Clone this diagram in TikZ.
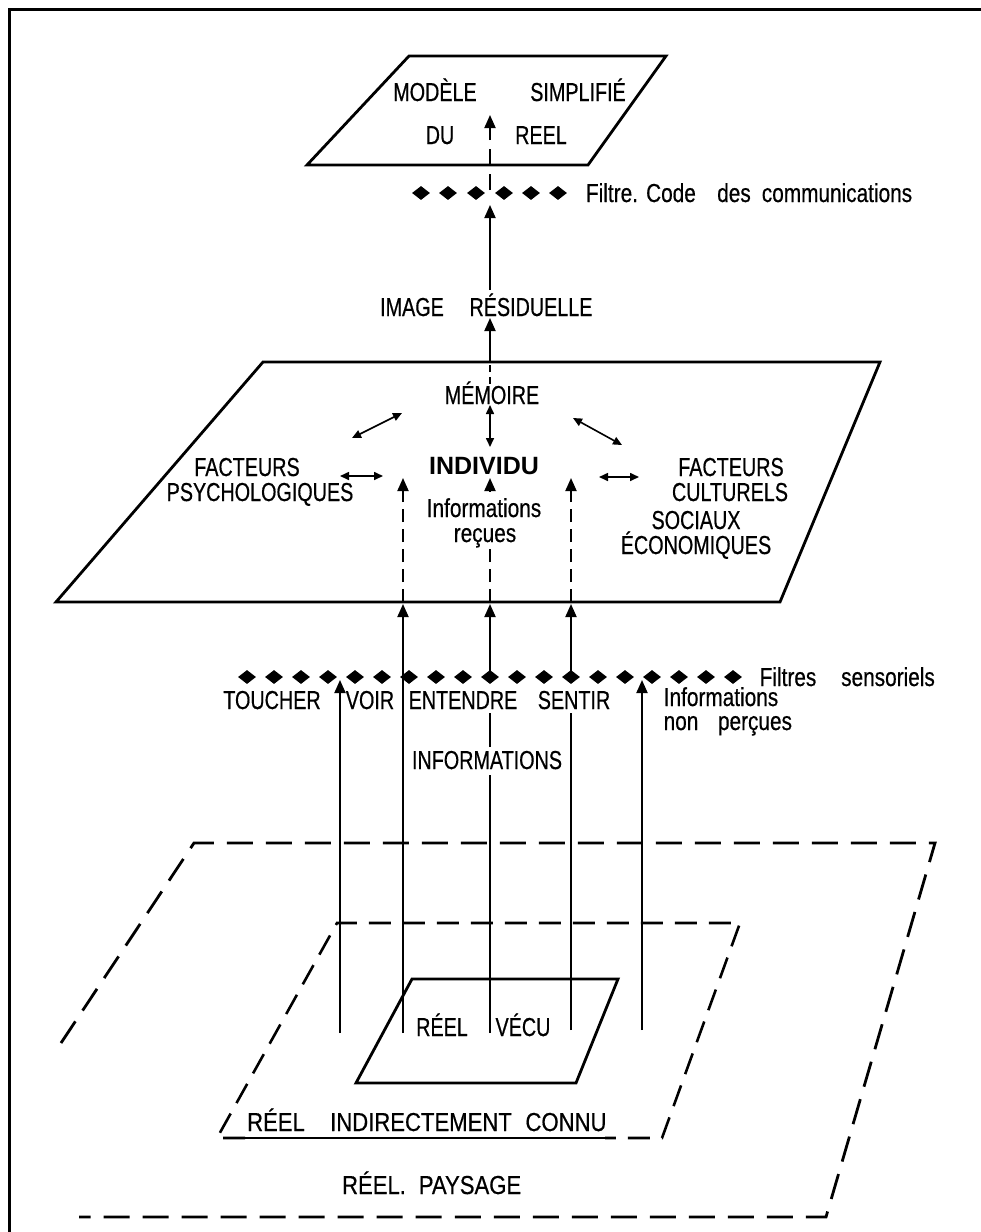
\documentclass[tikz,border=0pt]{standalone}
\usepackage{fontspec}
\setmainfont{Liberation Sans}
\newfontfamily\upf{Liberation Sans}[FakeStretch=0.76, FakeBold=0.5]
\newfontfamily\widef{Liberation Sans}[FakeStretch=0.85, FakeBold=0.5]
\newfontfamily\lowf{Liberation Sans}[FakeStretch=0.8, FakeBold=0.5]
\usetikzlibrary{arrows.meta,shapes.geometric}
\tikzset{
 lbl/.style={anchor=base, inner sep=0pt, font=\fontsize{26}{28}\upf},
 widelbl/.style={anchor=base, inner sep=0pt, font=\fontsize{26}{28}\widef},
 lowlbl/.style={anchor=base, inner sep=0pt, font=\fontsize{26}{28}\lowf},
 boldlbl/.style={anchor=base, inner sep=0pt, font=\fontsize{25}{28}\bfseries},
 plane/.style={line width=2.8pt, line join=miter},
 dplane/.style={line width=2.8pt, dash pattern=on 26pt off 13pt},
 vline/.style={line width=1.9pt},
 up/.style={line width=1.9pt, -{Triangle[length=13pt,width=11pt]}},
 dup/.style={up, dash pattern=on 13pt off 7pt},
 dbl/.style={line width=1.6pt, {Triangle[length=9pt,width=8pt]}-{Triangle[length=9pt,width=8pt]}},
 dia/.style={diamond, fill=black, inner sep=0pt, minimum width=18pt, minimum height=14pt},
}
\begin{document}
\begin{tikzpicture}[x=1pt,y=-1pt]
\useasboundingbox (0,0) rectangle (981,1232);
% frame
\draw[line width=3pt] (9,1232) -- (9,9) -- (981,9);

% ---- top plane
\draw[plane] (409,56) -- (666,56) -- (588,165) -- (307,165) -- cycle;
\node[lbl] (modele) at (435,101) {MODÈLE};
\node[lbl] (simpl) at (578,101) {SIMPLIFIÉ};
\node[lbl] (du) at (440,144) {DU};
\node[lbl] (reel) at (541,144) {REEL};

% ---- code filter
\foreach \x [count=\i] in {421,448,476,504,531,558} \node[dia] (ta\i) at (\x,193) {};
\node[lowlbl] (fc1) at (612,202) {Filtre.};
\node[lowlbl] (fc2) at (671,202) {Code};
\node[lowlbl] (fc3) at (734,202) {des};
\node[lowlbl] (fc4) at (837,202) {communications};

\node[lbl] (img1) at (412,316) {IMAGE};
\node[lbl] (img2) at (531,316) {RÉSIDUELLE};

\coordinate (tA) at (490,115);
\coordinate (tB) at (490,190);
\coordinate (f1) at (490,205);
\coordinate (irTop) at (490,290);
\coordinate (irBot) at (490,318);
\coordinate (pTop) at (490,362);
\coordinate (memTop) at (490,384);
\draw[up, dash pattern=on 16pt off 9pt] (tB) -- (tA);
\draw[up] (irTop) -- (f1);
\draw[up] (pTop) -- (irBot);
\draw[line width=1.3pt, dash pattern=on 7pt off 5pt] (memTop) -- (pTop);

% ---- middle plane
\draw[plane] (263,362) -- (880,362) -- (780,602) -- (56,602) -- cycle;
\node[lbl] (mem) at (492,404) {MÉMOIRE};
\node[boldlbl] (ind) at (484,474) {INDIVIDU};
\node[lbl] (fl1) at (247,476) {FACTEURS};
\node[lbl] (fl2) at (260,501) {PSYCHOLOGIQUES};
\node[lowlbl] (ir1) at (484,517) {Informations};
\node[lowlbl] (ir2) at (485,542) {reçues};
\node[lbl] (fr1) at (731,476) {FACTEURS};
\node[lbl] (fr2) at (730,501) {CULTURELS};
\node[lbl] (fr3) at (696,529) {SOCIAUX};
\node[lbl] (fr4) at (696,554) {ÉCONOMIQUES};

\coordinate (m1) at (490,405); \coordinate (m2) at (490,447);
\coordinate (l1) at (352,438); \coordinate (l2) at (402,413);
\coordinate (r1) at (573,418); \coordinate (r2) at (622,445);
\coordinate (h1) at (340,476); \coordinate (h2) at (383,476);
\coordinate (k1) at (599,477); \coordinate (k2) at (639,477);
\draw[dbl] (m1) -- (m2);
\draw[dbl] (l1) -- (l2);
\draw[dbl] (r1) -- (r2);
\draw[dbl] (h1) -- (h2);
\draw[dbl] (k1) -- (k2);

\coordinate (pa) at (403,602); \coordinate (pa2) at (403,478);
\coordinate (pc) at (571,602); \coordinate (pc2) at (571,478);
\coordinate (pb) at (490,602); \coordinate (pb1) at (490,549);
\coordinate (pb2) at (490,491); \coordinate (pb3) at (490,478);
\draw[dup] (pa) -- (pa2);
\draw[dup] (pc) -- (pc2);
\draw[vline, dash pattern=on 13pt off 7pt] (pb) -- (pb1);
\draw[up] (pb2) -- (pb3);

% ---- sensory filters
\foreach \i in {0,...,18} \node[dia] (sb\i) at ({247+27*\i},677) {};
\node[lowlbl] (fs1) at (788,686) {Filtres};
\node[lowlbl] (fs2) at (888,686) {sensoriels};
\node[lbl] (tou) at (272,709) {TOUCHER};
\node[lbl] (voi) at (370,709) {VOIR};
\node[lbl] (ent) at (463,709) {ENTENDRE};
\node[lbl] (sen) at (574,709) {SENTIR};
\node[lowlbl] (inp1) at (721,706) {Informations};
\node[lowlbl] (inp2) at (681,730) {non};
\node[lowlbl] (inp3) at (755,730) {perçues};
\node[lbl] (info) at (487,769) {INFORMATIONS};

% vertical lines from the real
\coordinate (a1) at (340,1033); \coordinate (a1t) at (340,680);
\coordinate (a2) at (403,1033); \coordinate (a2t) at (403,604);
\coordinate (a3) at (490,1033); \coordinate (a3a) at (490,775);
\coordinate (a3b) at (490,747); \coordinate (a3c) at (490,713);
\coordinate (a3t) at (490,604);
\coordinate (a4) at (571,1030); \coordinate (a4a) at (571,713);
\coordinate (a4t) at (571,604);
\coordinate (a5) at (642,1030); \coordinate (a5t) at (642,680);
\draw[up] (a1) -- (a1t);
\draw[up] (a2) -- (a2t);
\draw[vline] (a3) -- (a3a);
\draw[vline] (a3b) -- (a3c);
\draw[up] (sb9.center) -- (a3t);
\draw[vline] (a4) -- (a4a);
\draw[up] (sb12.center) -- (a4t);
\draw[up] (a5) -- (a5t);

% ---- real planes
\draw[dplane] (61,1043) -- (194,843) -- (935,843) -- (826,1217) -- (79,1217);
\draw[line width=2.6pt, dash pattern=on 22pt off 12pt] (245,1138) -- (217,1138) -- (337,923) -- (740,923) -- (662,1138) -- (605,1138);
\draw[line width=2.6pt] (245,1138) -- (605,1138);
\draw[plane] (412,979) -- (618,979) -- (576,1083) -- (356,1083) -- cycle;

\node[lbl] (rv1) at (442,1036) {RÉEL};
\node[lbl] (rv2) at (523,1036) {VÉCU};
\node[widelbl] (ri1) at (276,1131) {RÉEL};
\node[widelbl] (ri2) at (421,1131) {INDIRECTEMENT};
\node[widelbl] (ri3) at (566,1131) {CONNU};
\node[widelbl] (rp1) at (374,1194) {RÉEL.};
\node[widelbl] (rp2) at (470,1194) {PAYSAGE};
\end{tikzpicture}
\end{document}
